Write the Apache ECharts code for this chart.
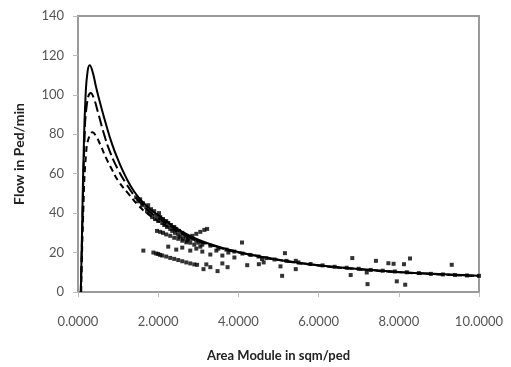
<!DOCTYPE html>
<html>
<head>
<meta charset="utf-8">
<script src="https://cdn.jsdelivr.net/npm/echarts@6/dist/echarts.min.js"></script>
<style>
  html, body { margin: 0; padding: 0; background: #fff; }
  #chart { width: 511px; height: 367px; }
</style>
</head>
<body>
<div id="chart"></div>
<script>
// x ticks / y ticks
var xTicks = [0, 2, 4, 6, 8, 10];
var yTicks = [0, 20, 40, 60, 80, 100, 120, 140];

// model curves [area module, flow]
var solidCurve = [[0.07,0],[0.1,30],[0.14,70],[0.19,100],[0.24,112],[0.29,115],[0.36,112],[0.45,104],[0.55,96],[0.7,85],[0.85,75],[1.0,67],[1.2,58],[1.4,51],[1.6,46],[1.8,42],[2.0,39],[2.3,34.5],[2.6,30.5],[3.0,26.5],[3.5,23],[4.0,20.3],[4.5,18.2],[5.0,16.4],[6.0,13.6],[7.0,11.7],[8.0,10.2],[9.0,9.1],[10.0,8.2]];
var longDashCurve = [[0.07,0],[0.11,35],[0.16,75],[0.22,95],[0.32,101],[0.4,98],[0.5,91],[0.65,80],[0.8,71],[1.0,62],[1.2,55],[1.4,49],[1.6,44.5],[1.8,40.5],[2.0,37.5],[2.3,33.5],[2.6,30],[3.0,26],[3.5,22.8],[4.0,20.2],[5.0,16.3],[6.0,13.5],[7.0,11.6],[8.0,10.1],[9.0,9],[10,8.1]];
var dashCurve = [[0.08,0],[0.13,40],[0.2,70],[0.28,79],[0.36,81],[0.45,79],[0.55,75],[0.7,68],[0.85,62],[1.0,56.5],[1.25,50],[1.5,44],[1.75,39.5],[2.0,36],[2.3,32.5],[2.6,29.5],[3.0,25.8],[3.5,22.6],[4.0,20],[5,16.2],[6,13.4],[7,11.5],[8,10],[9,8.9],[10,8]];

// observed points
var bandPoints = [[1.45,48],[1.5,46],[1.55,47],[1.6,44],[1.62,45],[1.7,43],[1.72,41],[1.75,44],[1.8,40],[1.82,42],[1.85,38],[1.9,41],[1.92,37],[1.95,39],[2.0,36],[2.02,40],[2.05,38],[2.1,35],[2.12,37],[2.15,34],[2.2,36],[2.22,33],[2.25,35],[2.3,32],[2.32,34],[2.35,31],[2.4,33],[2.42,30],[2.45,32],[2.5,29],[2.52,31],[2.55,28],[2.6,30],[2.62,27],[2.65,29],[2.7,28],[2.72,26],[2.75,27],[2.8,25],[2.85,27],[2.9,24],[2.95,26],[3.0,25],[3.05,23],[3.1,24]];
var midStreak = [[1.97,31],[2.05,30.5],[2.12,30],[2.2,29.2],[2.3,28.5],[2.4,27.5],[2.5,27],[2.6,26],[2.7,25.2],[2.75,27],[2.85,28.5],[2.95,29.5],[3.05,30.5],[3.15,31.5],[3.22,32]];
var lowStreak = [[1.63,21],[1.88,20],[1.95,19.5],[2.0,19.3],[2.05,18.8],[2.1,18.5],[2.2,18],[2.3,17.3],[2.4,16.8],[2.5,16.2],[2.6,15.6],[2.7,15],[2.8,14.5],[2.9,14],[2.97,13.8],[3.13,11.6],[3.3,12.6],[3.48,10.6],[3.73,12.6],[3.2,14],[3.6,14.5]];
var loosePoints = [[2.25,23],[2.45,21.5],[2.6,22.5],[2.8,21],[2.95,22],[3.1,20.5],[3.3,19],[3.45,21],[3.6,18.5],[3.75,20],[3.9,17.5],[4.09,25.1],[4.22,13.6],[4.51,14.1],[4.63,15],[4.59,16.7],[5.05,13],[5.09,8.2],[5.16,19.7],[5.43,11.6],[5.43,15.8],[6.84,17.2],[6.8,8.6],[7.22,4.0],[7.2,9.9],[7.43,15.8],[7.74,14.6],[7.87,14.3],[7.95,5.4],[8.13,14.1],[8.16,3.7],[8.28,17],[9.32,13.8]];
var tailPoints = [[3.3,23.5],[3.5,22],[3.7,21.5],[3.9,20.5],[4.1,19.5],[4.3,18.8],[4.5,18],[4.7,17.2],[4.9,16.5],[5.2,15.8],[5.5,15],[5.8,14.2],[6.1,13.5],[6.4,12.8],[6.7,12.3],[7.0,11.8],[7.3,11.2],[7.6,10.8],[7.9,10.4],[8.2,10],[8.5,9.6],[8.8,9.2],[9.1,8.9],[9.4,8.6],[9.7,8.4],[10,8.2]];

var chart = echarts.init(document.getElementById("chart"));
var font = "Lato, 'Open Sans', sans-serif";

function lineSeries(data, dash) {
  return {
    type: "line",
    data: data,
    smooth: true,
    showSymbol: false,
    symbol: "none",
    lineStyle: { color: "#000", width: 2, type: dash },
    z: 3,
  };
}
function dots(data) {
  return {
    type: "scatter",
    data: data,
    symbol: "rect",
    symbolSize: 4,
    itemStyle: { color: "#000" },
    z: 4,
  };
}

chart.setOption({
  animation: false,
  grid: {
    left: 78, right: 32, top: 16, bottom: 74,
    show: true, borderColor: "#9a9a9a", borderWidth: 2,
  },
  xAxis: {
    type: "value",
    min: xTicks[0], max: xTicks[xTicks.length - 1], interval: 2,
    name: "Area Module in sqm/ped",
    nameLocation: "middle",
    nameGap: 57,
    nameTextStyle: { fontFamily: font, fontWeight: "bold", fontSize: 13, color: "#222" },
    axisLine: { lineStyle: { color: "#9a9a9a", width: 2 } },
    axisTick: { show: true, length: 5, lineStyle: { color: "#bbb" } },
    axisLabel: {
      margin: 23, fontFamily: font, fontSize: 13, color: "#555",
      formatter: function (v) { return v.toFixed(4); },
    },
    splitLine: { show: false },
  },
  yAxis: {
    type: "value",
    min: yTicks[0], max: yTicks[yTicks.length - 1], interval: 20,
    name: "Flow in Ped/min",
    nameLocation: "middle",
    nameGap: 52,
    nameTextStyle: { fontFamily: font, fontWeight: "bold", fontSize: 14, color: "#222" },
    axisLine: { show: true, lineStyle: { color: "#9a9a9a", width: 2 } },
    axisTick: { show: true, length: 5, lineStyle: { color: "#bbb" } },
    axisLabel: { margin: 14, fontFamily: font, fontSize: 13, color: "#555" },
    splitLine: { show: false },
  },
  series: [
    lineSeries(solidCurve, "solid"),
    lineSeries(longDashCurve, [11, 4]),
    lineSeries(dashCurve, [6, 4]),
    dots(bandPoints),
    dots(midStreak),
    dots(lowStreak),
    dots(loosePoints),
    dots(tailPoints),
  ],
});
</script>
</body>
</html>
